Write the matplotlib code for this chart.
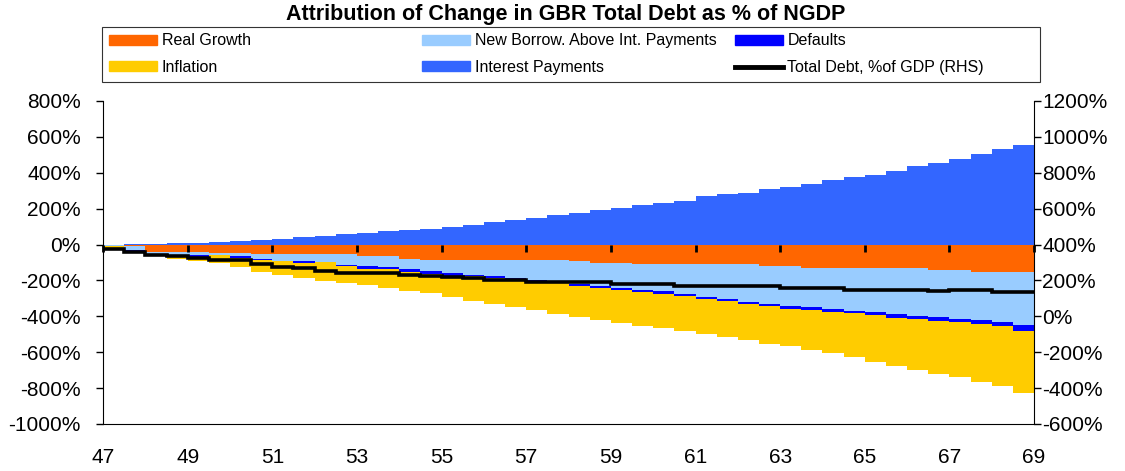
import numpy as np
import matplotlib.pyplot as plt
from matplotlib.patches import Patch, Rectangle
from matplotlib.lines import Line2D
from matplotlib.ticker import FuncFormatter, MultipleLocator

plt.rcParams['font.family'] = ['Liberation Sans', 'DejaVu Sans']

# half-year periods 1947H1 .. 1968H2, cumulative contributions in % of NGDP
periods = np.arange(47, 69, 0.5)
edges = np.append(periods, 69)

interest_payments = [0, 3, 5, 6, 11, 13, 22, 25, 33, 42, 45, 56, 67, 78, 82, 89,
                     100, 111, 123, 134, 147, 167, 178, 190, 203, 223, 234, 245,
                     268, 279, 290, 312, 323, 340, 357, 379, 390, 412, 435, 457,
                     479, 502, 535, 557]
real_growth = [-5, -8, -39, -41, -42, -45, -48, -52, -52, -52, -52, -52, -62, -62,
               -80, -84, -88, -86, -88, -86, -88, -86, -90, -101, -101, -110, -110,
               -110, -110, -110, -110, -121, -121, -133, -133, -133, -133, -133,
               -133, -144, -144, -155, -155, -155]
new_borrowing = [-3, -20, -17, -15, -17, -15, -16, -28, -38, -40, -47, -60, -59, -64,
                 -56, -66, -69, -82, -88, -100, -109, -121, -130, -128, -140, -142,
                 -151, -164, -181, -195, -209, -209, -220, -217, -227, -236, -242,
                 -256, -264, -261, -270, -265, -276, -295]
defaults = [0, -6, 0, 0, -10, 0, -10, -5, 0, -13, 0, -8, -15, -13, -15, -13, -18,
            -10, -10, -10, -10, -10, -12, -15, -15, -15, -17, -12, -10, -12, -15,
            -15, -17, -17, -15, -15, -15, -18, -18, -20, -18, -22, -22, -30]
inflation = [-9, -11, -6, -22, -21, -41, -49, -66, -78, -84, -102, -93, -91, -105,
             -106, -108, -119, -135, -144, -151, -157, -169, -171, -178, -180, -186,
             -188, -195, -197, -198, -197, -209, -210, -218, -231, -245, -265, -270,
             -284, -297, -306, -324, -336, -345]
# total debt, % of GDP (right axis)
total_debt = [374, 357, 340, 337, 323, 314, 314, 292, 277, 267, 255, 244, 242, 242,
              232, 226, 218, 214, 203, 203, 192, 190, 190, 190, 180, 180, 180, 169,
              169, 169, 169, 169, 160, 158, 158, 147, 147, 147, 147, 140, 147, 147,
              137, 135]

c_growth = '#FF6600'
c_infl = '#FFCC00'
c_borrow = '#99CCFF'
c_int = '#3366FF'
c_def = '#0000FF'

fig = plt.figure(figsize=(11.25, 4.71), dpi=100)
ax = fig.add_axes([0.0916, 0.0998, 0.8276, 0.6858])

ax.stairs(interest_payments, edges, baseline=0, fill=True, color=c_int, lw=0)
base = np.zeros(len(periods))
for vals, col in [(real_growth, c_growth), (new_borrowing, c_borrow),
                  (defaults, c_def), (inflation, c_infl)]:
    top = base + np.array(vals)
    ax.stairs(top, edges, baseline=base, fill=True, color=col, lw=0)
    base = top

ax.set_xlim(47, 69)
ax.set_ylim(-1000, 800)
ax.yaxis.set_major_locator(MultipleLocator(200))
pct = FuncFormatter(lambda v, p: '%d%%' % v)
ax.yaxis.set_major_formatter(pct)
ax.set_xticks(range(47, 70, 2))
ax.tick_params(axis='x', length=0, pad=17, labelsize=15)
ax.tick_params(axis='y', direction='out', length=5, width=1, pad=11, labelsize=15)
ax.spines['top'].set_visible(False)
ax.spines['right'].set_visible(False)

# x axis crossing at zero, ticks only
zero = ax.secondary_xaxis(1000 / 1800)
zero.set_xticks(range(47, 70, 2))
zero.xaxis.set_ticks_position('bottom')
zero.tick_params(direction='out', length=5, width=2, labelbottom=False, labeltop=False)
zero.spines['bottom'].set_linewidth(2)
zero.spines['top'].set_visible(False)
zero.set_zorder(5)

ax2 = ax.twinx()
ax2.stairs(total_debt, edges, baseline=None, color='black', lw=2.6)
ax2.set_ylim(-600, 1200)
ax2.yaxis.set_major_locator(MultipleLocator(200))
ax2.yaxis.set_major_formatter(pct)
ax2.tick_params(axis='y', direction='out', length=5, width=1, pad=1, labelsize=15)
for s in ['top', 'left', 'bottom']:
    ax2.spines[s].set_visible(False)

fig.text(0.5027, 0.970, 'Attribution of Change in GBR Total Debt as % of NGDP',
         ha='center', va='center', fontsize=15.5, fontweight='bold')

# legend: three columns laid out on a fixed grid like the original
cols = [
    [Patch(color=c_growth, label='Real Growth'), Patch(color=c_infl, label='Inflation')],
    [Patch(color=c_borrow, label='New Borrow. Above Int. Payments'),
     Patch(color=c_int, label='Interest Payments')],
    [Patch(color=c_def, label='Defaults'),
     Line2D([], [], color='black', lw=3.5, label='Total Debt, %of GDP (RHS)')],
]
for i, hs in enumerate(cols):
    fig.legend(handles=hs, loc='upper left', bbox_to_anchor=(0.097 + 0.278 * i, 0.929),
               frameon=False, fontsize=11.5, handlelength=3.0, handleheight=0.56,
               handletextpad=0.3, labelspacing=0.72, borderpad=0, borderaxespad=0)
fig.patches.append(Rectangle((0.0907, 0.826), 0.8338, 0.117, transform=fig.transFigure,
                             fill=False, lw=0.8, edgecolor='#333333'))

fig.savefig('out.png', dpi=100)
